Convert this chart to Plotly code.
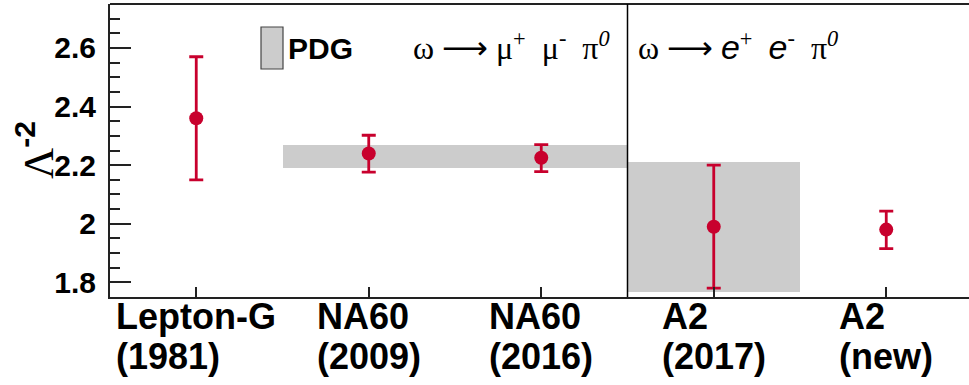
import plotly.graph_objects as go

# ---------------- data ----------------
categories = ["Lepton-G", "NA60", "NA60", "A2", "A2"]
years = ["(1981)", "(2009)", "(2016)", "(2017)", "(new)"]
cat_pos = [0.5, 1.5, 2.5, 3.5, 4.5]
values = [2.36, 2.24, 2.225, 1.99, 1.98]
err_plus = [0.21, 0.062, 0.045, 0.21, 0.063]
err_minus = [0.21, 0.064, 0.047, 0.21, 0.065]

# PDG bands (x span in category units, central value, half-width)
pdg_x_lo = [1.0, 3.0]
pdg_x_hi = [3.0, 4.0]
pdg_val = [2.229, 1.99]
pdg_err = [0.04, 0.222]

y_ticks = [1.8, 2.0, 2.2, 2.4, 2.6]
y_ticktext = ["1.8", "2", "2.2", "2.4", "2.6"]
group_split = 3.0

RED = "#c8002d"
GRAY = "#cccccc"
AX = "#222222"

fig = go.Figure()

# PDG bands as bars
fig.add_trace(go.Bar(
    x=[(a + b) / 2 for a, b in zip(pdg_x_lo, pdg_x_hi)],
    width=[b - a for a, b in zip(pdg_x_lo, pdg_x_hi)],
    base=[v - e for v, e in zip(pdg_val, pdg_err)],
    y=[2 * e for e in pdg_err],
    marker=dict(color=GRAY, line=dict(width=0)),
    showlegend=False, hoverinfo="skip",
))

# measurements
fig.add_trace(go.Scatter(
    x=cat_pos, y=values, mode="markers",
    marker=dict(color=RED, size=14, line=dict(width=0)),
    error_y=dict(type="data", symmetric=False, array=err_plus, arrayminus=err_minus,
                 color=RED, thickness=2.8, width=7),
    showlegend=False,
))

W, H = 969, 385
ml, mr, mt, mb = 110, 0, 4, 88
pw = W - ml - mr
ph = H - mt - mb

def px(x):
    return (x - ml) / pw

def py(y):
    return (H - mb - y) / ph

fig.update_layout(
    width=W, height=H,
    margin=dict(l=ml, r=mr, t=mt, b=mb, pad=0),
    paper_bgcolor="white", plot_bgcolor="white",
    font=dict(family="Liberation Sans, Arial", color="black"),
    bargap=0,
    showlegend=False,
    xaxis=dict(range=[0, pw / 172.5], showgrid=False, zeroline=False,
               showline=True, linecolor=AX, linewidth=2, mirror=False,
               tickvals=cat_pos, ticks="inside", ticklen=10, tickwidth=1.5,
               tickcolor=AX, showticklabels=False),
    yaxis=dict(range=[1.75, 2.75], showgrid=False, zeroline=False,
               showline=True, linecolor=AX, linewidth=2, mirror=False,
               tickvals=y_ticks, ticktext=y_ticktext, ticks="inside",
               ticklen=21, tickwidth=1.5, tickcolor=AX,
               ticklabelstandoff=6,
               tickfont=dict(size=30, family="Liberation Sans, Arial",
                             color="black", weight="bold"),
               minor=dict(dtick=0.05, tick0=1.75, ticks="inside", ticklen=10,
                          tickwidth=1.5, tickcolor=AX)),
)

# top frame line
fig.add_shape(type="line", xref="paper", yref="paper", x0=0, x1=1, y0=1, y1=1,
              line=dict(color=AX, width=2))
# group separator
fig.add_shape(type="line", xref="x", yref="paper", x0=group_split, x1=group_split,
              y0=0, y1=1, line=dict(color="black", width=1.5))

# legend box
fig.add_shape(type="rect", xref="paper", yref="paper",
              x0=px(261), x1=px(283), y0=py(69), y1=py(27),
              fillcolor=GRAY, line=dict(color="#444444", width=1.2))
fig.add_annotation(text="<b>PDG</b>", xref="paper", yref="paper",
                   x=px(286), y=py(48), xanchor="left", yanchor="middle",
                   showarrow=False, font=dict(size=30, color="black"))

# channel labels
serif = "Liberation Serif, Times New Roman"
arrow = '<span style="font-family:DejaVu Sans">⟶</span>'
esans = '<span style="font-family:Liberation Sans;font-size:34px"><i>e</i></span>'
fig.add_annotation(
    text="ω " + arrow + " μ<sup>+</sup>  μ<sup>-</sup>  π<sup><i>0</i></sup>",
    xref="paper", yref="paper", x=px(411), y=py(47), xanchor="left", yanchor="middle",
    showarrow=False, font=dict(size=32, family=serif, color="black"))
fig.add_annotation(
    text="ω " + arrow + " " + esans + "<sup>+</sup>  " + esans + "<sup>-</sup>  π<sup><i>0</i></sup>",
    xref="paper", yref="paper", x=px(636), y=py(47), xanchor="left", yanchor="middle",
    showarrow=False, font=dict(size=32, family=serif, color="black"))

# y title
fig.add_annotation(
    text=('Λ<sup><span style="font-family:Liberation Sans"><b>-2</b></span></sup>'),
    xref="paper", yref="paper", x=px(35), y=py(150), xanchor="center", yanchor="middle",
    textangle=-90, showarrow=False, font=dict(size=43, family=serif, color="black"))

# x category labels (two lines, left-aligned block centred on tick)
big = '<span style="font-size:36px"><b>%s</b></span>'
for xc, c, yr in zip(cat_pos, categories, years):
    fig.add_annotation(text=(big % c) + "<br>" + (big % yr),
                       xref="x", yref="paper", x=xc, y=0, xanchor="center",
                       yanchor="top", align="left", yshift=3, showarrow=False,
                       font=dict(size=31, color="black"))

fig.write_html("out.html")
